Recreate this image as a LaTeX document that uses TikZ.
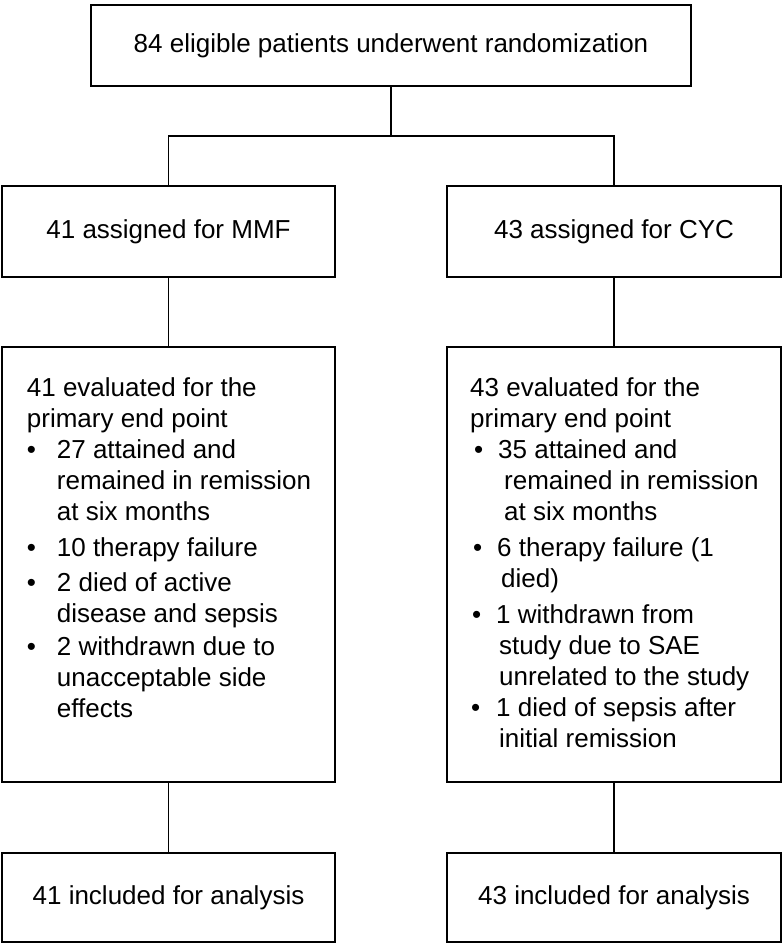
\documentclass[tikz,border=0pt]{standalone}
\usepackage{fontspec}
\setmainfont{Liberation Sans}
\begin{document}
\begin{tikzpicture}[x=1pt,y=-1pt,
  every node/.style={font=\fontsize{26}{31}\selectfont},
  box/.style={draw, line width=1.5pt, rectangle, inner sep=0pt},
  conn/.style={line width=1.5pt},
  txt/.style={anchor=base west, inner sep=0pt}]
\useasboundingbox (0,0) rectangle (783,944);
% boxes
\node[box, minimum width=600pt, minimum height=81pt] (top) at (391,45.5) {84 eligible patients underwent randomization};
\node[box, minimum width=333pt, minimum height=91pt] (mmf) at (168.5,231.5) {41 assigned for MMF};
\node[box, minimum width=334pt, minimum height=91pt] (cyc) at (614,231.5) {43 assigned for CYC};
\node[box, minimum width=333pt, minimum height=435pt] (levl) at (168.5,564.5) {};
\node[box, minimum width=334pt, minimum height=435pt] (revl) at (614,564.5) {};
\node[box, minimum width=333pt, minimum height=89pt] (linc) at (168.5,897.5) {41 included for analysis};
\node[box, minimum width=334pt, minimum height=89pt] (rinc) at (614,897.5) {43 included for analysis};
% list texts
\node[txt] (ltext) at (26.7,396.7) {\begin{tabular}[t]{@{}l@{}}
41 evaluated for the\\
primary end point\\
\makebox[30pt][l]{\textbullet}27 attained and\\
\hspace*{30pt}remained in remission\\
\hspace*{30pt}at six months\\[4.5pt]
\makebox[30pt][l]{\textbullet}10 therapy failure\\[4.5pt]
\makebox[30pt][l]{\textbullet}2 died of active\\
\hspace*{30pt}disease and sepsis\\[2pt]
\makebox[30pt][l]{\textbullet}2 withdrawn due to\\
\hspace*{30pt}unacceptable side\\
\hspace*{30pt}effects
\end{tabular}};
\node[txt] (rtext) at (470,396.7) {\begin{tabular}[t]{@{}l@{}}
43 evaluated for the\\
primary end point\\
\hspace*{4pt}\makebox[24pt][l]{\textbullet}35 attained and\\
\hspace*{34pt}remained in remission\\
\hspace*{34pt}at six months\\[4.5pt]
\hspace*{3pt}\makebox[24pt][l]{\textbullet}6 therapy failure (1\\
\hspace*{31pt}died)\\[5.5pt]
\hspace*{2pt}\makebox[24pt][l]{\textbullet}1 withdrawn from\\
\hspace*{29pt}study due to SAE\\
\hspace*{29pt}unrelated to the study\\
\hspace*{1pt}\makebox[25pt][l]{\textbullet}1 died of sepsis after\\
\hspace*{29pt}initial remission
\end{tabular}};
% connectors
\coordinate (jn) at (391,136);
\draw[conn] (top.south) -- (jn);
\draw[conn] (mmf.north) -- (mmf.north |- jn) -- (cyc.north |- jn) -- (cyc.north);
\draw[conn] (mmf.south) -- (levl.north);
\draw[conn] (cyc.south) -- (revl.north);
\draw[conn] (levl.south) -- (linc.north);
\draw[conn] (revl.south) -- (rinc.north);
\end{tikzpicture}
\end{document}
